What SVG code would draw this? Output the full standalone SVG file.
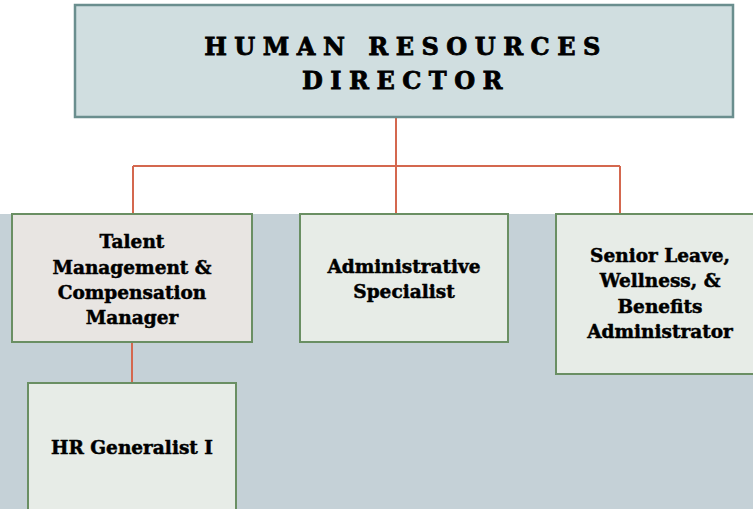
<svg xmlns="http://www.w3.org/2000/svg" width="753" height="509" viewBox="0 0 753 509">
<style>
.t{font-family:"DejaVu Serif","Liberation Serif",serif;font-weight:bold;fill:#000;stroke:#000;stroke-width:0.5;text-anchor:middle}
.n{font-size:18.5px}
.h{font-size:24px;letter-spacing:7.5px;stroke-width:0.8}
.box{stroke:#6A8F63;stroke-width:2}
.c{stroke:#D4684F;stroke-width:2;fill:none}
</style>
<rect x="0" y="0" width="753" height="509" fill="#FFFFFF"/>
<rect x="0" y="214" width="753" height="295" fill="#C5D1D7"/>
<g id="connectors">
<path class="c" d="M396,117V214M133,166H620M133,166V214M620,166V214M132,342V383"/>
</g>
<g id="director">
<rect x="75" y="5" width="658" height="112" fill="#D0DEE0" stroke="#6A8E8E" stroke-width="2.5"/>
<text class="t h" x="406" y="55">HUMAN RESOURCES</text>
<text class="t h" x="406" y="89">DIRECTOR</text>
</g>
<g id="talent">
<rect class="box" x="12" y="214" width="240" height="128" fill="#E8E5E2"/>
<text class="t n" x="132" y="248">Talent</text>
<text class="t n" x="132" y="274">Management &amp;</text>
<text class="t n" x="132" y="299">Compensation</text>
<text class="t n" x="132" y="324">Manager</text>
</g>
<g id="admin">
<rect class="box" x="300" y="214" width="208" height="128" fill="#E7ECE7"/>
<text class="t n" x="404" y="273">Administrative</text>
<text class="t n" x="404" y="298">Specialist</text>
</g>
<g id="senior">
<rect class="box" x="556" y="214" width="200" height="160" fill="#E7ECE7"/>
<text class="t n" x="660" y="262">Senior Leave,</text>
<text class="t n" x="660" y="287">Wellness, &amp;</text>
<text class="t n" x="660" y="313">Benefits</text>
<text class="t n" x="660" y="338">Administrator</text>
</g>
<g id="hrgen">
<rect class="box" x="28" y="383" width="208" height="130" fill="#E7ECE7"/>
<text class="t n" x="132" y="454">HR Generalist I</text>
</g>
</svg>
